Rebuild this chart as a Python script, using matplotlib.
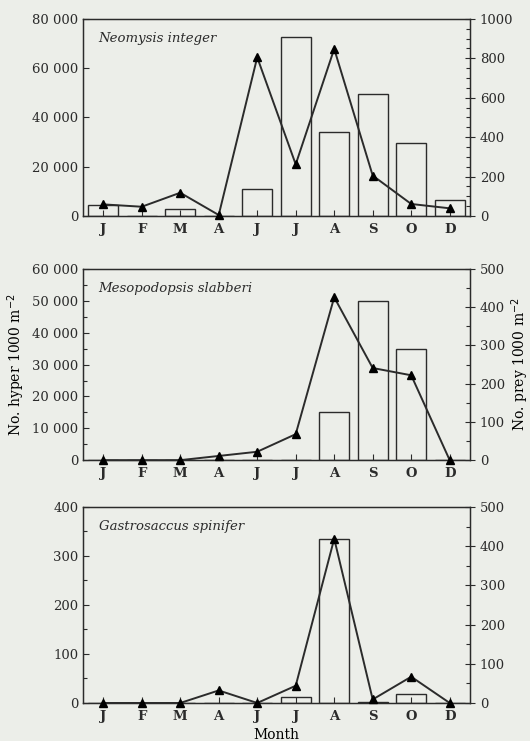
import numpy as np
import matplotlib.pyplot as plt
from matplotlib.ticker import MultipleLocator, FuncFormatter

months = ["J", "F", "M", "A", "J", "J", "A", "S", "O", "D"]

# bars = hyperbenthos (left axis), line = prey (right axis)
neo_hyper = [4600, 0, 3000, 0, 11100, 72500, 34100, 49700, 29500, 6500]
neo_prey = [59, 47, 118, 5, 805, 262, 848, 205, 61, 39]

meso_hyper = [0, 0, 0, 0, 0, 0, 15200, 50000, 35000, 0]
meso_prey = [0, 0, 0, 11, 22, 68, 426, 241, 222, 0]

gas_hyper = [0, 0, 0, 0, 0, 12, 335, 2, 19, 0]
gas_prey = [0, 0, 0, 32, 0, 44, 419, 9, 67, 0]

species = ["Neomysis integer", "Mesopodopsis slabberi", "Gastrosaccus spinifer"]

bg = "#eceee9"
ink = "#2b2b2b"
plt.rcParams["font.family"] = ["DejaVu Serif"]
plt.rcParams["font.size"] = 9.5
plt.rcParams["text.color"] = ink
plt.rcParams["axes.edgecolor"] = ink
plt.rcParams["xtick.color"] = ink
plt.rcParams["ytick.color"] = ink

def thousands(v, pos):
    return "{:,}".format(int(v)).replace(",", " ")

fig = plt.figure(figsize=(5.3, 7.41), dpi=100, facecolor=bg)

panels = [
    (species[0], neo_hyper, neo_prey, 80000, 20000, None, 1000, 200, 50, [0.157, 0.7085, 0.73, 0.266]),
    (species[1], meso_hyper, meso_prey, 60000, 10000, 5000, 500, 100, 50, [0.157, 0.379, 0.73, 0.258]),
    (species[2], gas_hyper, gas_prey, 400, 100, 50, 500, 100, 50, [0.157, 0.0513, 0.73, 0.2645]),
]

x = np.arange(len(months))
for name, hyper, prey, lmax, lmaj, lmin, rmax, rmaj, rmin, pos in panels:
    ax = fig.add_axes(pos)
    ax.set_facecolor(bg)
    ax.bar(x, hyper, width=0.78, facecolor="none", edgecolor=ink, linewidth=1.0)
    ax.set_xlim(-0.52, 9.53)
    ax.set_ylim(0, lmax)
    ax.set_xticks(x)
    ax.set_xticklabels(months, fontweight="bold")
    ax.yaxis.set_major_locator(MultipleLocator(lmaj))
    if lmin:
        ax.yaxis.set_minor_locator(MultipleLocator(lmin))
    ax.yaxis.set_major_formatter(FuncFormatter(thousands))
    ax.tick_params(axis="both", direction="in", length=4, width=0.8)
    ax.tick_params(axis="y", which="minor", direction="in", length=3, width=0.8)
    ax.tick_params(axis="x", pad=5)
    for s in ax.spines.values():
        s.set_linewidth(1.0)
    ax.text(0.04, 0.9, name, transform=ax.transAxes, style="italic",
            fontsize=9.5, ha="left", va="center")

    ax2 = ax.twinx()
    ax2.plot(x, prey, color=ink, linewidth=1.4, marker="^", markersize=6,
             markerfacecolor="black", markeredgecolor="black", clip_on=False, zorder=3)
    ax2.set_ylim(0, rmax)
    ax2.yaxis.set_major_locator(MultipleLocator(rmaj))
    ax2.yaxis.set_minor_locator(MultipleLocator(rmin))
    ax2.tick_params(axis="y", which="major", direction="inout", length=7, width=0.8)
    ax2.tick_params(axis="y", which="minor", direction="in", length=3, width=0.8)

    if name == species[1]:
        ax.set_ylabel("No. hyper 1000 m$^{-2}$", fontsize=10, labelpad=4)
        ax2.set_ylabel("No. prey 1000 m$^{-2}$", fontsize=10, labelpad=3)
    if name == species[2]:
        ax.set_xlabel("Month", fontsize=10, labelpad=4)

fig.savefig("out.png", dpi=100, facecolor=bg)
